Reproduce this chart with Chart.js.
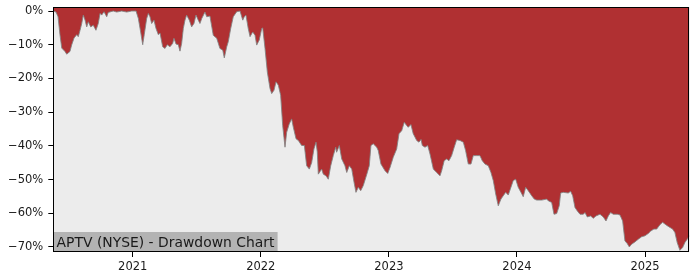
<!DOCTYPE html>
<html>
<head>
<meta charset="utf-8">
<script src="https://cdn.jsdelivr.net/npm/chart.js@4/dist/chart.umd.min.js"></script>
<style>
  html, body { margin: 0; padding: 0; background: #fff; }
  #chart { display: block; }
</style>
</head>
<body>
<canvas id="chart" width="700" height="280"></canvas>
<script>
// Даты (десятичный год) и просадка в %
const dates = [
  2020.382, 2020.401, 2020.417, 2020.432, 2020.446, 2020.471, 2020.485, 2020.510, 2020.524, 2020.542,
  2020.563, 2020.575, 2020.589, 2020.602, 2020.614, 2020.628, 2020.641, 2020.653, 2020.672, 2020.692,
  2020.713, 2020.731, 2020.745, 2020.758, 2020.776, 2020.797, 2020.809, 2020.848, 2020.875, 2020.914,
  2020.953, 2020.992, 2021.026, 2021.044, 2021.062, 2021.078, 2021.090, 2021.109, 2021.122, 2021.135,
  2021.148, 2021.166, 2021.182, 2021.200, 2021.213, 2021.234, 2021.252, 2021.270, 2021.291, 2021.312,
  2021.322, 2021.338, 2021.356, 2021.369, 2021.382, 2021.395, 2021.408, 2021.421, 2021.442, 2021.460,
  2021.478, 2021.494, 2021.512, 2021.525, 2021.539, 2021.564, 2021.578, 2021.603, 2021.629, 2021.656,
  2021.681, 2021.703, 2021.715, 2021.734, 2021.746, 2021.765, 2021.785, 2021.812, 2021.838, 2021.859,
  2021.871, 2021.884, 2021.902, 2021.916, 2021.937, 2021.955, 2021.968, 2021.988, 2022.007, 2022.015,
  2022.033, 2022.051, 2022.072, 2022.085, 2022.103, 2022.119, 2022.137, 2022.155, 2022.171, 2022.189,
  2022.202, 2022.222, 2022.241, 2022.254, 2022.275, 2022.293, 2022.319, 2022.340, 2022.358, 2022.379,
  2022.397, 2022.415, 2022.431, 2022.441, 2022.449, 2022.475, 2022.488, 2022.509, 2022.527, 2022.546,
  2022.566, 2022.585, 2022.592, 2022.613, 2022.632, 2022.657, 2022.671, 2022.691, 2022.710, 2022.728,
  2022.743, 2022.761, 2022.780, 2022.800, 2022.827, 2022.847, 2022.860, 2022.878, 2022.905, 2022.917,
  2022.938, 2022.970, 2022.991, 2023.009, 2023.034, 2023.061, 2023.079, 2023.100, 2023.120, 2023.139,
  2023.151, 2023.172, 2023.190, 2023.217, 2023.235, 2023.251, 2023.261, 2023.282, 2023.303, 2023.321,
  2023.347, 2023.373, 2023.399, 2023.412, 2023.432, 2023.451, 2023.469, 2023.490, 2023.510, 2023.529,
  2023.555, 2023.581, 2023.599, 2023.620, 2023.641, 2023.659, 2023.685, 2023.711, 2023.729, 2023.750,
  2023.776, 2023.797, 2023.815, 2023.834, 2023.854, 2023.875, 2023.893, 2023.912, 2023.932, 2023.953,
  2023.971, 2023.990, 2024.010, 2024.031, 2024.049, 2024.068, 2024.088, 2024.115, 2024.135, 2024.154,
  2024.193, 2024.232, 2024.244, 2024.271, 2024.289, 2024.310, 2024.330, 2024.341, 2024.361, 2024.400,
  2024.419, 2024.435, 2024.453, 2024.471, 2024.492, 2024.518, 2024.531, 2024.549, 2024.575, 2024.596,
  2024.617, 2024.648, 2024.674, 2024.695, 2024.713, 2024.731, 2024.752, 2024.783, 2024.804, 2024.825,
  2024.843, 2024.861, 2024.877, 2024.895, 2024.921, 2024.947, 2024.973, 2024.999, 2025.025, 2025.044,
  2025.069, 2025.091, 2025.116, 2025.137, 2025.155, 2025.173, 2025.194, 2025.215, 2025.233, 2025.251,
  2025.272, 2025.293, 2025.311, 2025.329, 2025.345
];
const drawdown = [
  0, -0.3, -1.7, -7, -11, -12, -12.8, -12, -10, -8,
  -7, -7.6, -5.7, -3.7, -1.2, -2.7, -4.7, -3.2, -4.7, -4.2,
  -5.7, -3.7, -0.7, -1.2, -0.2, -1.7, -0.4, 0, -0.3, 0,
  -0.3, 0, 0, -2.2, -6.2, -10, -7, -2.2, -0.7, -1.7,
  -3.7, -2.7, -5.2, -7, -6.5, -10.6, -11.1, -10, -10.6, -9.6,
  -8.1, -9.8, -10, -11.9, -9.6, -5.2, -2.7, -1.2, -2.7, -4.7,
  -3.7, -1.2, -2.7, -3.7, -2.2, -0.3, -1.7, -1.5, -7.2, -8.1,
  -11.1, -11.6, -13.9, -10.6, -9.1, -5.2, -1.7, -0.2, 0, -2.7,
  -1.7, -1.2, -5.2, -7.6, -6.2, -7.2, -10.1, -8.6, -5.2, -5,
  -11.1, -18.1, -23, -24.5, -23.5, -21, -22, -25, -34, -40.4,
  -36, -33.5, -32, -34.5, -37.9, -38.4, -39.9, -39.9, -45.9, -46.9,
  -45, -40.9, -38.9, -41.8, -48.4, -46.9, -48.4, -48.9, -49.9, -45.9,
  -42.9, -40.4, -41.9, -39.9, -43.9, -45.9, -47.9, -45.9, -46.9, -50.8,
  -53.8, -52.3, -53.3, -51.8, -48.5, -45.9, -39.9, -39.4, -40.4, -41.4,
  -45.4, -47.4, -48.2, -46.4, -43.4, -40.9, -36.4, -35.5, -33, -34,
  -34.5, -33.7, -36.4, -38.4, -38.9, -38.1, -39.9, -40.4, -39.9, -42.4,
  -46.9, -47.9, -48.9, -47.4, -44.4, -43.9, -44.4, -42.9, -40.4, -38.2,
  -38.4, -38.9, -41.4, -45.4, -45.4, -42.9, -42.9, -42.9, -44.4, -45.4,
  -45.9, -47.9, -50.3, -54.3, -57.8, -55.8, -54.8, -53.8, -54.6, -52.3,
  -50.3, -49.9, -52.3, -53.8, -55.1, -52.3, -53.3, -54.8, -55.8, -56.1,
  -56.1, -55.8, -56.3, -56.8, -60.3, -60.1, -57.8, -54, -53.8, -54,
  -53.5, -54.8, -58.3, -59.3, -60.3, -60.3, -59.8, -61.1, -60.8, -61.5,
  -60.8, -60.3, -61.1, -62.3, -60.8, -59.8, -60.3, -60.3, -60.5, -62.3,
  -68.2, -69, -70, -69.2, -68.5, -67.7, -67, -66.7, -66, -65.3,
  -64.7, -64.7, -63.4, -62.7, -63.2, -63.7, -64.2, -64.7, -65.7, -68.7,
  -71, -70.2, -68.7, -67.7, -66.7
];
const yearTicks = [2021, 2022, 2023, 2024, 2025];
const percentTicks = [-70, -60, -50, -40, -30, -20, -10, 0];
const title = 'APTV (NYSE) - Drawdown Chart';

const FONT = 'DejaVu Sans';

// Фон области графика, подпись и рамка
const plotDecor = {
  id: 'plotDecor',
  beforeDatasetsDraw(chart) {
    const { ctx, chartArea: a } = chart;
    ctx.save();
    ctx.fillStyle = '#ececec';
    ctx.fillRect(a.left, a.top, a.right - a.left, a.bottom - a.top);
    ctx.restore();
  },
  afterDatasetsDraw(chart) {
    const { ctx, chartArea: a } = chart;
    ctx.save();
    ctx.font = '13.9px "' + FONT + '"';
    const w = ctx.measureText(title).width + 6.5;
    ctx.fillStyle = '#b3b3b3';
    ctx.fillRect(a.left, a.bottom - 20, w, 20);
    ctx.fillStyle = '#1a1a1a';
    ctx.textBaseline = 'alphabetic';
    ctx.fillText(title, a.left + 3.3, a.bottom - 5);
    ctx.strokeStyle = '#000';
    ctx.lineWidth = 1;
    ctx.strokeRect(Math.round(a.left) + 0.5, Math.round(a.top) + 0.5,
      Math.round(a.right - a.left) - 1, Math.round(a.bottom - a.top) - 1);
    ctx.restore();
  }
};

new Chart(document.getElementById('chart'), {
  type: 'line',
  data: {
    datasets: [{
      data: dates.map((d, i) => ({ x: d, y: drawdown[i] })),
      fill: 'end',
      backgroundColor: '#b03032',
      borderColor: 'rgba(130, 130, 130, 0.85)',
      borderWidth: 1,
      pointRadius: 0,
      tension: 0
    }]
  },
  options: {
    responsive: false,
    animation: false,
    devicePixelRatio: 1,
    layout: { padding: { top: 7, right: 10.5, left: 0, bottom: 0 } },
    plugins: { legend: { display: false }, tooltip: { enabled: false } },
    scales: {
      x: {
        type: 'linear',
        min: 2020.380,
        max: 2025.347,
        afterBuildTicks: s => { s.ticks = yearTicks.map(v => ({ value: v })); },
        afterFit: s => { s.height = 28; s.paddingLeft = 0; s.paddingRight = 0; },
        border: { display: false },
        grid: { drawOnChartArea: false, drawTicks: true, tickLength: 5, color: '#000' },
        ticks: {
          padding: 3,
          color: '#1a1a1a',
          font: { family: FONT, size: 11.5 },
          maxRotation: 0,
          callback: v => String(v)
        }
      },
      y: {
        min: -71.5,
        max: 1.2,
        afterBuildTicks: s => { s.ticks = percentTicks.map(v => ({ value: v })); },
        afterFit: s => { s.width = 53.3; s.paddingTop = 0; s.paddingBottom = 0; },
        border: { display: false },
        grid: { drawOnChartArea: false, drawTicks: true, tickLength: 5, color: '#000' },
        ticks: {
          padding: 5,
          color: '#1a1a1a',
          font: { family: FONT, size: 11.5 },
          callback: v => (v < 0 ? '\u2212' : '') + Math.abs(v) + '%'
        }
      }
    }
  },
  plugins: [plotDecor]
});
</script>
</body>
</html>
